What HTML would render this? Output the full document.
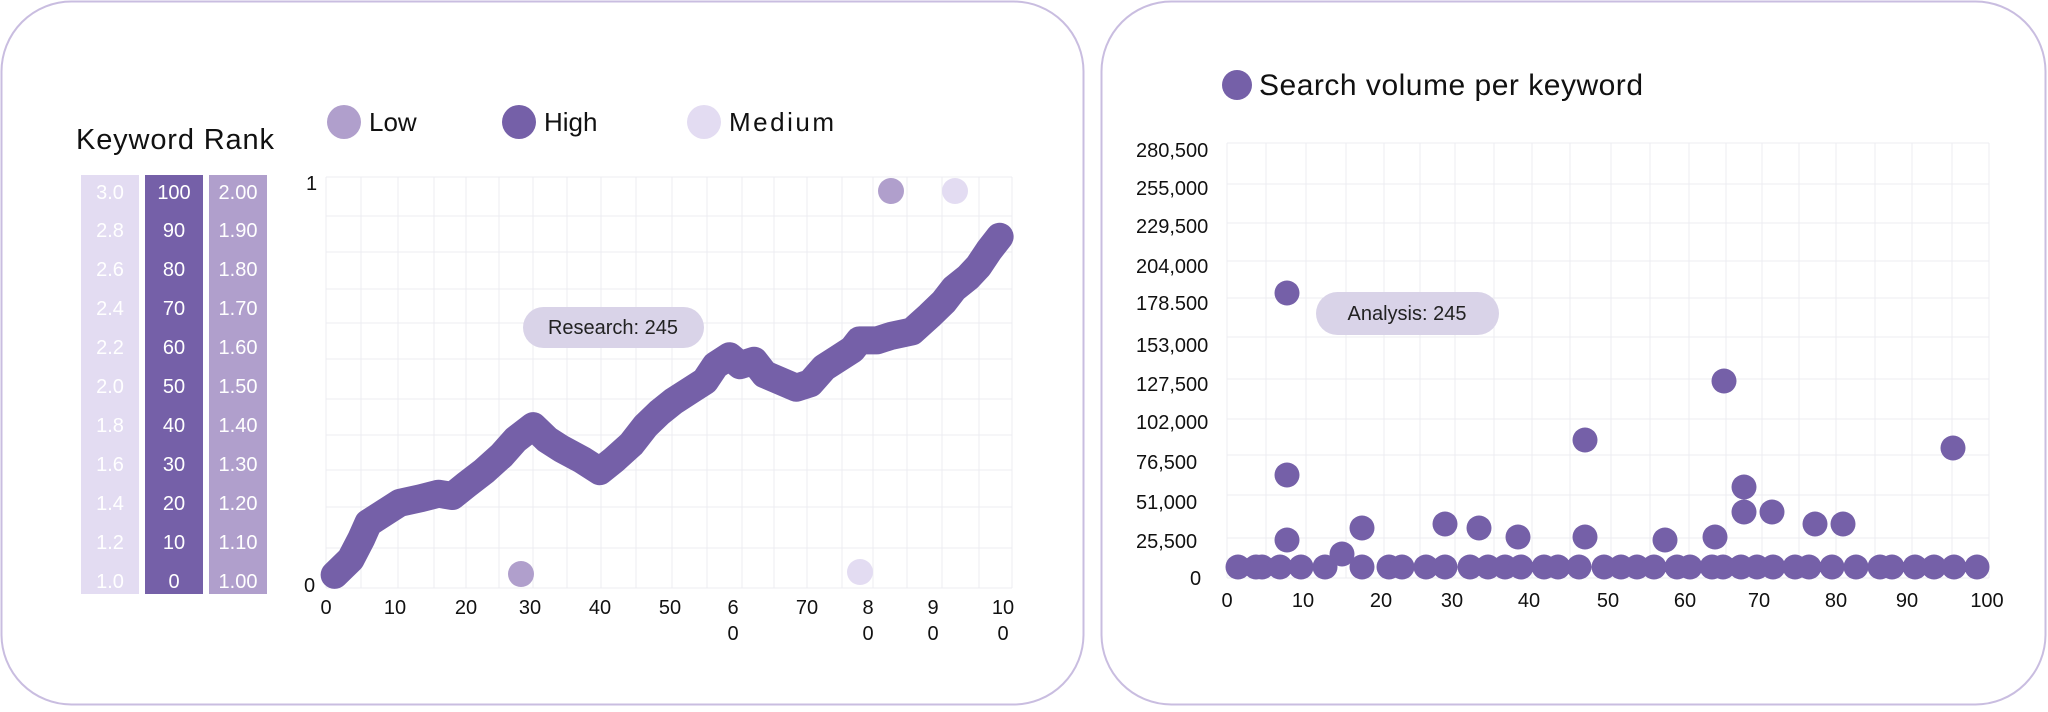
<!DOCTYPE html>
<html><head><meta charset="utf-8"><style>
body{margin:0;width:2048px;height:707px;background:#fff;overflow:hidden;font-family:"Liberation Sans",sans-serif}
svg text{font-family:"Liberation Sans",sans-serif}
</style></head><body>
<svg width="2048" height="707" viewBox="0 0 2048 707" xmlns="http://www.w3.org/2000/svg">
<rect x="1.5" y="1.5" width="1082" height="703" rx="70" fill="#fff" stroke="#c9bde0" stroke-width="2"/>
<rect x="1101.5" y="1.5" width="944" height="703" rx="70" fill="#fff" stroke="#c9bde0" stroke-width="2"/>

<!-- Left -->
<text x="76" y="149" font-size="29" fill="#111" textLength="198">Keyword Rank</text>
<circle cx="344" cy="122" r="17" fill="#b09fcc"/><text x="369" y="131" font-size="26" fill="#111">Low</text>
<circle cx="519" cy="122" r="17" fill="#7560a8"/><text x="544" y="131" font-size="26" fill="#111">High</text>
<circle cx="704" cy="122" r="17" fill="#e3dcf2"/><text x="729" y="131" font-size="26" fill="#111" textLength="105">Medium</text>

<rect x="81" y="175" width="58" height="419" fill="#e3dcf2"/>
<rect x="145" y="175" width="58" height="419" fill="#7560a8"/>
<rect x="209" y="175" width="58" height="419" fill="#b09fcc"/>
<g font-size="20" fill="#fff">
<g text-anchor="middle">
<text x="110" y="199">3.0</text><text x="110" y="237">2.8</text><text x="110" y="276">2.6</text><text x="110" y="315">2.4</text><text x="110" y="354">2.2</text><text x="110" y="393">2.0</text><text x="110" y="432">1.8</text><text x="110" y="471">1.6</text><text x="110" y="510">1.4</text><text x="110" y="549">1.2</text><text x="110" y="588">1.0</text>
<text x="174" y="199">100</text><text x="174" y="237">90</text><text x="174" y="276">80</text><text x="174" y="315">70</text><text x="174" y="354">60</text><text x="174" y="393">50</text><text x="174" y="432">40</text><text x="174" y="471">30</text><text x="174" y="510">20</text><text x="174" y="549">10</text><text x="174" y="588">0</text>
<text x="238" y="199">2.00</text><text x="238" y="237">1.90</text><text x="238" y="276">1.80</text><text x="238" y="315">1.70</text><text x="238" y="354">1.60</text><text x="238" y="393">1.50</text><text x="238" y="432">1.40</text><text x="238" y="471">1.30</text><text x="238" y="510">1.20</text><text x="238" y="549">1.10</text><text x="238" y="588">1.00</text>
</g></g>

<g stroke="#ececf2" stroke-width="1">
<line x1="326" y1="177" x2="326" y2="588"/><line x1="361" y1="177" x2="361" y2="588"/><line x1="398" y1="177" x2="398" y2="588"/><line x1="434" y1="177" x2="434" y2="588"/><line x1="466" y1="177" x2="466" y2="588"/><line x1="499" y1="177" x2="499" y2="588"/><line x1="533" y1="177" x2="533" y2="588"/><line x1="567" y1="177" x2="567" y2="588"/><line x1="601" y1="177" x2="601" y2="588"/><line x1="636" y1="177" x2="636" y2="588"/><line x1="672" y1="177" x2="672" y2="588"/><line x1="707" y1="177" x2="707" y2="588"/><line x1="742" y1="177" x2="742" y2="588"/><line x1="774" y1="177" x2="774" y2="588"/><line x1="807" y1="177" x2="807" y2="588"/><line x1="842" y1="177" x2="842" y2="588"/><line x1="873" y1="177" x2="873" y2="588"/><line x1="907" y1="177" x2="907" y2="588"/><line x1="942" y1="177" x2="942" y2="588"/><line x1="979" y1="177" x2="979" y2="588"/><line x1="1012" y1="177" x2="1012" y2="588"/>
<line x1="326" y1="177" x2="1012" y2="177"/><line x1="326" y1="216" x2="1012" y2="216"/><line x1="326" y1="252" x2="1012" y2="252"/><line x1="326" y1="289" x2="1012" y2="289"/><line x1="326" y1="323" x2="1012" y2="323"/><line x1="326" y1="359" x2="1012" y2="359"/><line x1="326" y1="399" x2="1012" y2="399"/><line x1="326" y1="435" x2="1012" y2="435"/><line x1="326" y1="470" x2="1012" y2="470"/><line x1="326" y1="507" x2="1012" y2="507"/><line x1="326" y1="548" x2="1012" y2="548"/><line x1="326" y1="588" x2="1012" y2="588"/>
</g>
<g font-size="20" fill="#111">
<text x="306" y="190">1</text><text x="304" y="592">0</text>
<g text-anchor="middle">
<text x="326" y="614">0</text><text x="395" y="614">10</text><text x="466" y="614">20</text><text x="530" y="614">30</text><text x="600" y="614">40</text><text x="670" y="614">50</text>
<text x="733" y="614">6</text><text x="733" y="640">0</text><text x="807" y="614">70</text>
<text x="868" y="614">8</text><text x="868" y="640">0</text><text x="933" y="614">9</text><text x="933" y="640">0</text><text x="1003" y="614">10</text><text x="1003" y="640">0</text>
</g></g>

<g transform="scale(0.7015,0.4509)">
<polyline fill="none" stroke="#7560a8" stroke-width="28" stroke-linecap="round" stroke-linejoin="round" vector-effect="non-scaling-stroke" points="477,1275 500,1240 515,1195 525,1160 550,1135 570,1115 600,1105 625,1095 645,1100 665,1075 690,1045 715,1010 735,975 760,945 780,975 800,995 830,1020 855,1045 875,1020 900,985 920,945 940,915 960,890 985,865 1005,845 1020,810 1040,790 1055,810 1075,800 1090,830 1105,840 1135,860 1155,850 1175,815 1195,795 1215,775 1225,755 1250,755 1270,745 1300,735 1325,700 1345,670 1360,640 1380,615 1395,590 1410,555 1425,525"/>
</g>
<circle cx="891" cy="191" r="13" fill="#b09fcc"/>
<circle cx="955" cy="191" r="13" fill="#e3dcf2"/>
<circle cx="521" cy="574" r="13" fill="#b09fcc"/>
<circle cx="860" cy="572" r="13" fill="#e3dcf2"/>
<rect x="523" y="307" width="181" height="41" rx="20.5" fill="#d9d3e8"/>
<text x="613" y="334" font-size="20" fill="#222" text-anchor="middle">Research: 245</text>

<!-- Right -->
<circle cx="1237" cy="85" r="15" fill="#7560a8"/>
<text x="1259" y="95" font-size="30" fill="#111" textLength="384">Search volume per keyword</text>
<g stroke="#ececf2" stroke-width="1">
<line x1="1227" y1="143" x2="1227" y2="578"/><line x1="1266" y1="143" x2="1266" y2="578"/><line x1="1306" y1="143" x2="1306" y2="578"/><line x1="1346" y1="143" x2="1346" y2="578"/><line x1="1384" y1="143" x2="1384" y2="578"/><line x1="1420" y1="143" x2="1420" y2="578"/><line x1="1455" y1="143" x2="1455" y2="578"/><line x1="1494" y1="143" x2="1494" y2="578"/><line x1="1532" y1="143" x2="1532" y2="578"/><line x1="1570" y1="143" x2="1570" y2="578"/><line x1="1611" y1="143" x2="1611" y2="578"/><line x1="1650" y1="143" x2="1650" y2="578"/><line x1="1689" y1="143" x2="1689" y2="578"/><line x1="1726" y1="143" x2="1726" y2="578"/><line x1="1762" y1="143" x2="1762" y2="578"/><line x1="1799" y1="143" x2="1799" y2="578"/><line x1="1836" y1="143" x2="1836" y2="578"/><line x1="1875" y1="143" x2="1875" y2="578"/><line x1="1912" y1="143" x2="1912" y2="578"/><line x1="1952" y1="143" x2="1952" y2="578"/><line x1="1989" y1="143" x2="1989" y2="578"/>
<line x1="1227" y1="143" x2="1989" y2="143"/><line x1="1227" y1="184" x2="1989" y2="184"/><line x1="1227" y1="223" x2="1989" y2="223"/><line x1="1227" y1="261" x2="1989" y2="261"/><line x1="1227" y1="298" x2="1989" y2="298"/><line x1="1227" y1="337" x2="1989" y2="337"/><line x1="1227" y1="379" x2="1989" y2="379"/><line x1="1227" y1="419" x2="1989" y2="419"/><line x1="1227" y1="455" x2="1989" y2="455"/><line x1="1227" y1="495" x2="1989" y2="495"/><line x1="1227" y1="538" x2="1989" y2="538"/><line x1="1227" y1="578" x2="1989" y2="578"/>
</g>
<g font-size="20" fill="#111">
<text x="1136" y="157">280,500</text><text x="1136" y="195">255,000</text><text x="1136" y="233">229,500</text><text x="1136" y="273">204,000</text><text x="1136" y="310">178.500</text><text x="1136" y="352">153,000</text><text x="1136" y="391">127,500</text><text x="1136" y="429">102,000</text><text x="1136" y="469">76,500</text><text x="1136" y="509">51,000</text><text x="1136" y="548">25,500</text><text x="1190" y="585">0</text>
<g text-anchor="middle">
<text x="1227" y="607">0</text><text x="1303" y="607">10</text><text x="1381" y="607">20</text><text x="1452" y="607">30</text><text x="1529" y="607">40</text><text x="1608" y="607">50</text><text x="1685" y="607">60</text><text x="1759" y="607">70</text><text x="1836" y="607">80</text><text x="1907" y="607">90</text><text x="1987" y="607">100</text>
</g></g>
<g fill="#7560a8">
<circle cx="1238" cy="567" r="12.5"/><circle cx="1256" cy="567" r="12.5"/><circle cx="1262" cy="567" r="12.5"/><circle cx="1280" cy="567" r="12.5"/><circle cx="1301" cy="567" r="12.5"/><circle cx="1325" cy="567" r="12.5"/><circle cx="1362" cy="567" r="12.5"/><circle cx="1389" cy="567" r="12.5"/><circle cx="1402" cy="567" r="12.5"/><circle cx="1426" cy="567" r="12.5"/><circle cx="1445" cy="567" r="12.5"/><circle cx="1470" cy="567" r="12.5"/><circle cx="1488" cy="567" r="12.5"/><circle cx="1505" cy="567" r="12.5"/><circle cx="1521" cy="567" r="12.5"/><circle cx="1544" cy="567" r="12.5"/><circle cx="1558" cy="567" r="12.5"/><circle cx="1579" cy="567" r="12.5"/><circle cx="1604" cy="567" r="12.5"/><circle cx="1621" cy="567" r="12.5"/><circle cx="1637" cy="567" r="12.5"/><circle cx="1654" cy="567" r="12.5"/><circle cx="1677" cy="567" r="12.5"/><circle cx="1690" cy="567" r="12.5"/><circle cx="1712" cy="567" r="12.5"/><circle cx="1723" cy="567" r="12.5"/><circle cx="1741" cy="567" r="12.5"/><circle cx="1757" cy="567" r="12.5"/><circle cx="1773" cy="567" r="12.5"/><circle cx="1795" cy="567" r="12.5"/><circle cx="1809" cy="567" r="12.5"/><circle cx="1832" cy="567" r="12.5"/><circle cx="1856" cy="567" r="12.5"/><circle cx="1880" cy="567" r="12.5"/><circle cx="1892" cy="567" r="12.5"/><circle cx="1915" cy="567" r="12.5"/><circle cx="1934" cy="567" r="12.5"/><circle cx="1954" cy="567" r="12.5"/><circle cx="1977" cy="567" r="12.5"/>
<circle cx="1287" cy="293" r="12.5"/><circle cx="1287" cy="475" r="12.5"/><circle cx="1287" cy="540" r="12.5"/><circle cx="1342" cy="554" r="12.5"/><circle cx="1362" cy="528" r="12.5"/><circle cx="1445" cy="524" r="12.5"/><circle cx="1479" cy="528" r="12.5"/><circle cx="1518" cy="537" r="12.5"/><circle cx="1585" cy="440" r="12.5"/><circle cx="1585" cy="537" r="12.5"/><circle cx="1665" cy="540" r="12.5"/><circle cx="1715" cy="537" r="12.5"/><circle cx="1724" cy="381" r="12.5"/><circle cx="1744" cy="487" r="12.5"/><circle cx="1744" cy="512" r="12.5"/><circle cx="1772" cy="512" r="12.5"/><circle cx="1815" cy="524" r="12.5"/><circle cx="1843" cy="524" r="12.5"/><circle cx="1953" cy="448" r="12.5"/>
</g>
<rect x="1316" y="292" width="183" height="43" rx="21.5" fill="#d9d3e8"/>
<text x="1407" y="320" font-size="20" fill="#222" text-anchor="middle">Analysis: 245</text>
</svg>
</body></html>
